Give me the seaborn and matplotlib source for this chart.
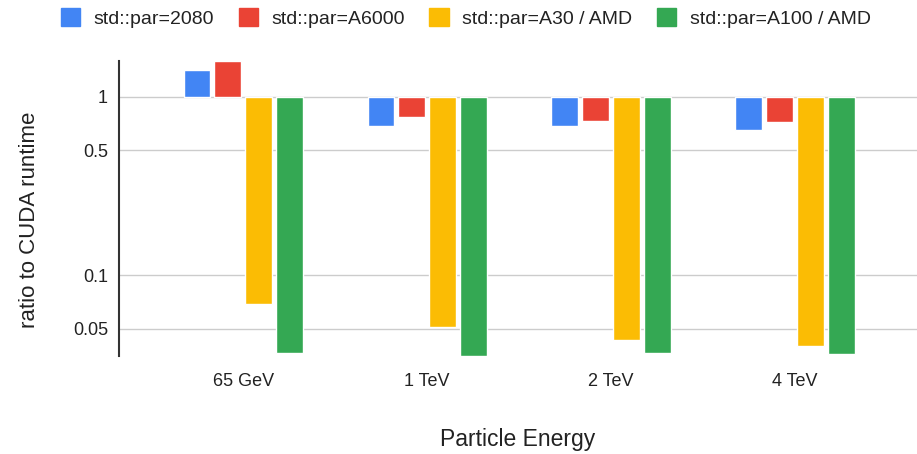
import numpy as np
import pandas as pd
import matplotlib
matplotlib.use("Agg")
import matplotlib.pyplot as plt
import seaborn as sns
from matplotlib.patches import Patch

energies = ["65 GeV", "1 TeV", "2 TeV", "4 TeV"]
series = ["std::par=2080", "std::par=A6000", "std::par=A30 / AMD", "std::par=A100 / AMD"]
ratio_2080 = [1.42, 0.69, 0.69, 0.65]
ratio_a6000 = [1.58, 0.77, 0.735, 0.72]
ratio_a30 = [0.0685, 0.0513, 0.0434, 0.040]
ratio_a100 = [0.0367, 0.0353, 0.0365, 0.0359]
colors = ["#4285F4", "#EA4335", "#FBBC04", "#34A853"]
yticks = [1, 0.5, 0.1, 0.05]
ytick_labels = ["1", "0.5", "0.1", "0.05"]

rows = []
for name, vals in zip(series, [ratio_2080, ratio_a6000, ratio_a30, ratio_a100]):
    for e, v in zip(energies, vals):
        rows.append({"energy": e, "series": name, "ratio": v})
df = pd.DataFrame(rows)
# bars grow from the ratio 1 baseline, so plot on log10 axis
df["log_ratio"] = np.log10(df["ratio"])

sns.set_style("white")
plt.rcParams["font.family"] = ["Liberation Sans", "DejaVu Sans"]
plt.rcParams["text.color"] = "#222222"

fig = plt.figure(figsize=(9.17, 4.54), dpi=100)
ax = fig.add_axes([0.130, 0.216, 0.870, 0.650])

sns.barplot(data=df, x="energy", y="log_ratio", hue="series", order=energies,
            hue_order=series, palette=colors, width=0.67, gap=0.13,
            saturation=1, legend=False, ax=ax, zorder=3)

ax.set_yticks(np.log10(yticks))
ax.set_yticklabels(ytick_labels, fontsize=13, color="#222222")
ax.set_ylim(-1.454, 0.202)
ax.set_xlim(-0.674, 3.663)
ax.grid(axis="y", color="#cccccc", linewidth=1, zorder=0)
ax.tick_params(axis="both", length=0, pad=8)
ax.tick_params(axis="x", labelsize=13, labelcolor="#222222", pad=12)
for s in ["top", "right", "bottom"]:
    ax.spines[s].set_visible(False)
ax.spines["left"].set_color("#333333")
ax.spines["left"].set_linewidth(1.5)

ax.set_xlabel("Particle Energy", fontsize=16.5, labelpad=28, color="#222222")
ax.set_ylabel("ratio to CUDA runtime", fontsize=16, color="#222222")
ax.yaxis.set_label_coords(-0.099, 0.46)

handles = [Patch(facecolor=c, edgecolor=c) for c in colors]
fig.legend(handles, series, loc="center", ncol=4, frameon=False,
           fontsize=14, bbox_to_anchor=(0.508, 1 - 18 / 454), handlelength=1.0,
           handleheight=1.0, columnspacing=1.25, handletextpad=0.7)

fig.savefig("out.png", dpi=100)
